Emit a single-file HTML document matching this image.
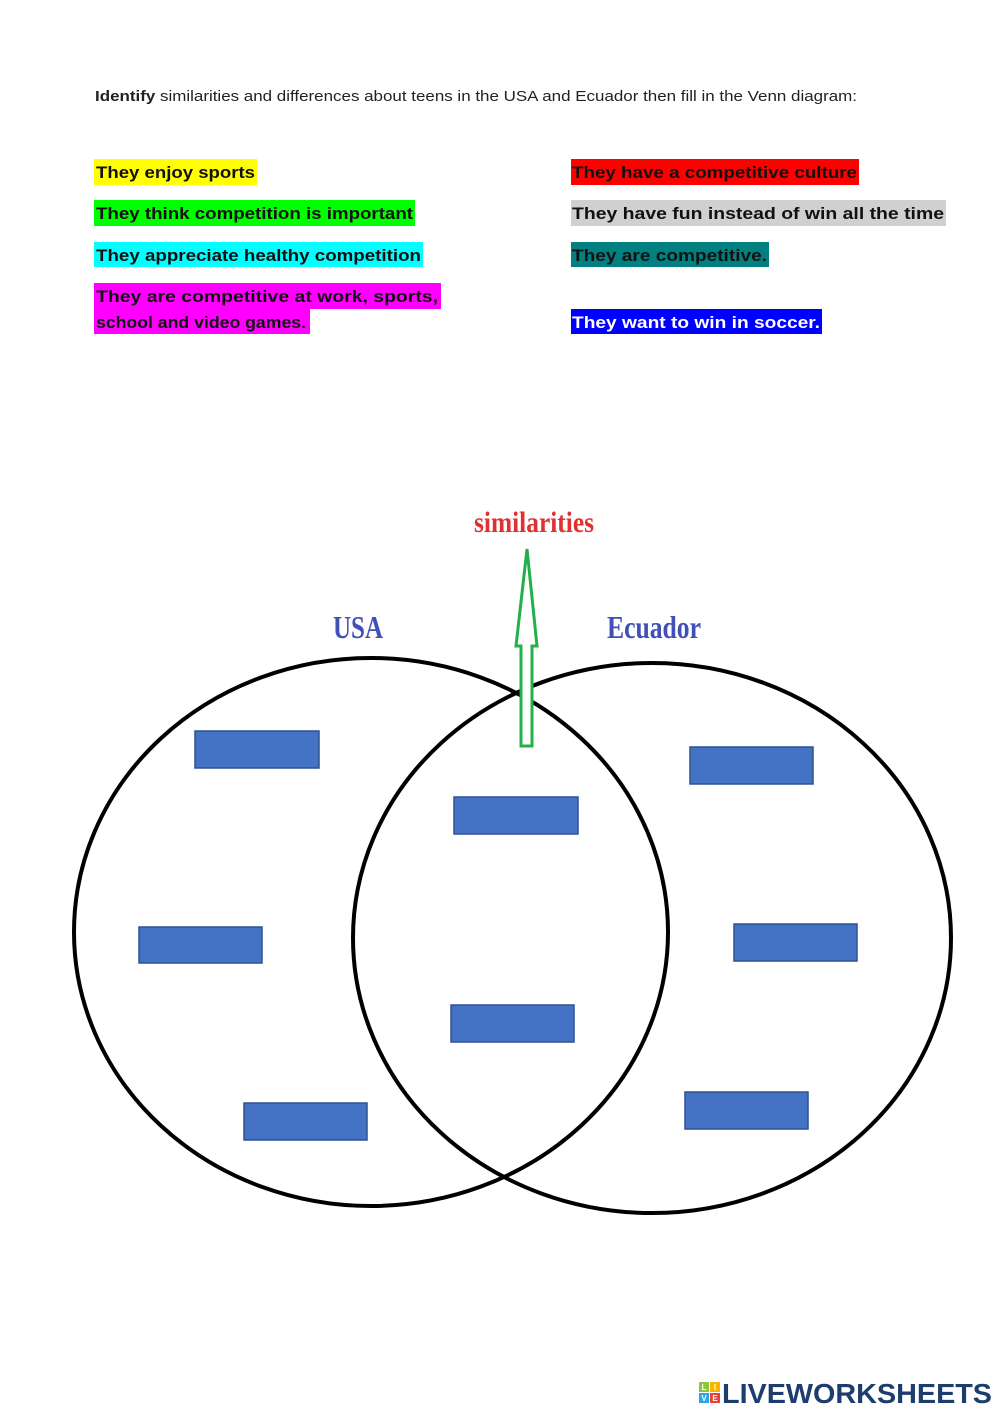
<!DOCTYPE html>
<html><head><meta charset="utf-8"><style>
html,body{margin:0;padding:0;background:#fff;}
svg{display:block;}
</style></head><body>
<svg width="1000" height="1413" viewBox="0 0 1000 1413" xmlns="http://www.w3.org/2000/svg">
<rect width="1000" height="1413" fill="#fff"/>
<text x="95" y="101" font-family="Liberation Sans, sans-serif" font-size="15" fill="#222" textLength="762" lengthAdjust="spacingAndGlyphs"><tspan font-weight="bold">Identify</tspan> similarities and differences about teens in the USA and Ecuador then fill in the Venn diagram:</text>
<g font-family="Liberation Sans, sans-serif" font-size="17" font-weight="bold" lengthAdjust="spacingAndGlyphs">
<rect x="94" y="159" width="163" height="26" fill="#ffff00"/>
<text x="96" y="178" textLength="159" lengthAdjust="spacingAndGlyphs" fill="#111">They enjoy sports</text>
<rect x="94" y="200" width="321" height="26" fill="#00ff00"/>
<text x="96" y="219" textLength="317" lengthAdjust="spacingAndGlyphs" fill="#111">They think competition is important</text>
<rect x="94" y="242" width="329" height="25" fill="#00ffff"/>
<text x="96" y="261" textLength="325" lengthAdjust="spacingAndGlyphs" fill="#111">They appreciate healthy competition</text>
<rect x="94" y="283" width="347" height="26" fill="#ff00ff"/>
<rect x="94" y="309" width="216" height="25" fill="#ff00ff"/>
<text x="96" y="302" textLength="342" lengthAdjust="spacingAndGlyphs" fill="#111">They are competitive at work, sports,</text>
<text x="96" y="328" textLength="210" lengthAdjust="spacingAndGlyphs" fill="#111">school and video games.</text>
<rect x="571" y="159" width="288" height="26" fill="#ff0000"/>
<text x="572" y="178" textLength="285" lengthAdjust="spacingAndGlyphs" fill="#111">They have a competitive culture</text>
<rect x="571" y="200" width="375" height="26" fill="#d0d0d0"/>
<text x="572" y="219" textLength="372" lengthAdjust="spacingAndGlyphs" fill="#111">They have fun instead of win all the time</text>
<rect x="571" y="242" width="198" height="25" fill="#008080"/>
<text x="572" y="261" textLength="195" lengthAdjust="spacingAndGlyphs" fill="#111">They are competitive.</text>
<rect x="571" y="309" width="251" height="25" fill="#0000ff"/>
<text x="572" y="328" textLength="248" lengthAdjust="spacingAndGlyphs" fill="#fff">They want to win in soccer.</text>
</g>
<text x="474" y="532" font-family="Liberation Serif, serif" font-size="30" font-weight="bold" fill="#e03030" textLength="120" lengthAdjust="spacingAndGlyphs">similarities</text>
<text x="333" y="638" font-family="Liberation Serif, serif" font-size="32" font-weight="bold" fill="#4050b8" textLength="50" lengthAdjust="spacingAndGlyphs">USA</text>
<text x="607" y="638" font-family="Liberation Serif, serif" font-size="32" font-weight="bold" fill="#4050b8" textLength="94" lengthAdjust="spacingAndGlyphs">Ecuador</text>
<ellipse cx="371" cy="932" rx="297" ry="274" fill="none" stroke="#000" stroke-width="4"/>
<ellipse cx="652" cy="938" rx="299" ry="275" fill="none" stroke="#000" stroke-width="4"/>
<polygon points="527,549 537,646 532,646 532,746 521,746 521,646 516,646" fill="#fff" stroke="#22b04a" stroke-width="3" stroke-linejoin="miter"/>
<g fill="#4472c4" stroke="#2f528f" stroke-width="1.5">
<rect x="195" y="731" width="124" height="37"/>
<rect x="454" y="797" width="124" height="37"/>
<rect x="690" y="747" width="123" height="37"/>
<rect x="139" y="927" width="123" height="36"/>
<rect x="734" y="924" width="123" height="37"/>
<rect x="451" y="1005" width="123" height="37"/>
<rect x="244" y="1103" width="123" height="37"/>
<rect x="685" y="1092" width="123" height="37"/>
</g>
<g font-family="Liberation Sans, sans-serif" font-weight="bold" font-size="8" fill="#fff" text-anchor="middle">
<rect x="699" y="1382" width="10" height="10" fill="#8cc63f"/><text x="704" y="1390">L</text>
<rect x="710" y="1382" width="10" height="10" fill="#f7b500"/><text x="715" y="1390">I</text>
<rect x="699" y="1393" width="10" height="10" fill="#29a8e0"/><text x="704" y="1401">V</text>
<rect x="710" y="1393" width="10" height="10" fill="#e8403a"/><text x="715" y="1401">E</text>
</g>
<text x="722" y="1403" font-family="Liberation Sans, sans-serif" font-weight="bold" font-size="28" fill="#1c3d6e" textLength="270" lengthAdjust="spacingAndGlyphs">LIVEWORKSHEETS</text>
</svg>
</body></html>
